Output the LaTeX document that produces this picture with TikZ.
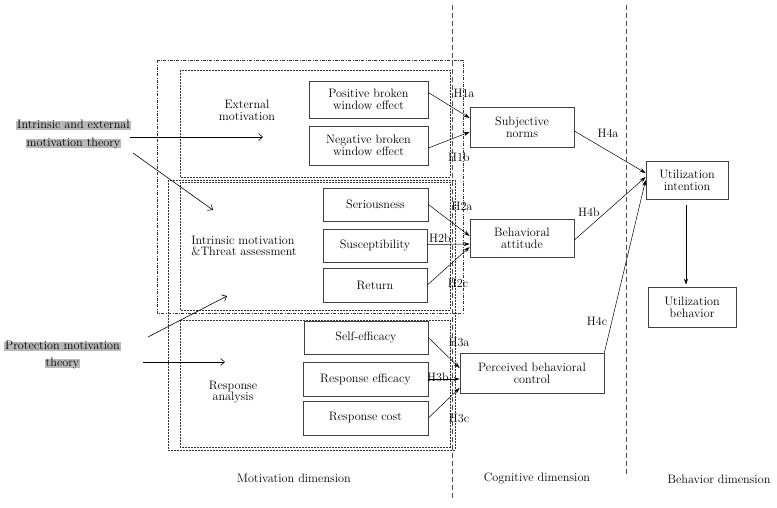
\documentclass[tikz,border=0pt]{standalone}
\usetikzlibrary{arrows.meta,calc}
\begin{document}
\begin{tikzpicture}[x=1pt,y=-1pt,
  font=\fontsize{12.2}{11.8}\selectfont,
  box/.style={draw=black!75,line width=0.7pt,align=center,inner sep=1pt},
  hl/.style={fill=black!28,inner sep=1pt,text depth=0.25ex,text height=1.6ex},
  lbl/.style={align=center,inner sep=1pt},
  harrow/.style={-{Stealth[length=6pt,width=4pt]},line width=0.5pt},
  tarrow/.style={-{Straight Barb[length=4pt,width=7pt]},line width=0.6pt},
  fdash/.style={draw=black!80,line width=0.5pt,dash pattern=on 2pt off 1pt},
  ddot/.style={draw=black!80,line width=0.5pt,dash pattern=on 3pt off 1.5pt on 0.6pt off 1.5pt},
  vdiv/.style={draw=black!70,line width=0.7pt,dash pattern=on 5pt off 3pt}]
\useasboundingbox (0,0) rectangle (777,507);
% grouping frames
\draw[ddot] (157,60) rectangle (463,313);
\draw[fdash] (180,70) rectangle (450,177);
\draw[fdash] (180,182) rectangle (450,310);
\draw[fdash] (168,180) rectangle (455,450);
\draw[fdash] (180,320) rectangle (450,447);
% dividers
\coordinate (d1t) at (452,5);
\coordinate (d1b) at (452,500);
\coordinate (d2t) at (626,5);
\coordinate (d2b) at (626,475);
\draw[vdiv] (d1t) -- (d1b);
\draw[vdiv] (d2t) -- (d2b);
% theories
\node[hl] (t1a) at (73.5,125.5) {Intrinsic and external};
\node[hl] (t1b) at (73.5,143.5) {motivation theory};
\node[hl] (t2a) at (62.5,346.5) {Protection motivation};
\node[hl] (t2b) at (62.5,363.5) {theory};
% group labels
\node[lbl] (ext) at (247,110) {External\\motivation};
\node[lbl,align=left] (intr) at (244,246) {Intrinsic motivation\\\&Threat assessment};
\node[lbl] (resp) at (233,392) {Response\\analysis};
% theory arrows
\coordinate (a1s) at (130,137);
\coordinate (a1e) at (263,137);
\coordinate (a2s) at (133,153);
\coordinate (a2e) at (213,210);
\coordinate (a3s) at (148,337);
\coordinate (a3e) at (227,296);
\coordinate (a4s) at (143,362);
\coordinate (a4e) at (225,362);
\draw[tarrow] (a1s) -- (a1e);
\draw[tarrow] (a2s) -- (a2e);
\draw[tarrow] (a3s) -- (a3e);
\draw[tarrow] (a4s) -- (a4e);
% factor boxes
\node[box,minimum width=119,minimum height=37] (pos) at (368.5,99.5) {Positive broken\\window effect};
\node[box,minimum width=119,minimum height=39] (neg) at (368.5,145.5) {Negative broken\\window effect};
\node[box,minimum width=105,minimum height=33] (ser) at (375.5,204.5) {Seriousness};
\node[box,minimum width=104,minimum height=33] (sus) at (375,245.5) {Susceptibility};
\node[box,minimum width=104,minimum height=34] (ret) at (375,285) {Return};
\node[box,minimum width=124,minimum height=33] (self) at (366,337.5) {Self-efficacy};
\node[box,minimum width=125,minimum height=34] (reff) at (365.5,379) {Response efficacy};
\node[box,minimum width=125,minimum height=34] (rcost) at (365.5,418) {Response cost};
% cognitive
\node[box,minimum width=104,minimum height=40] (subj) at (522,127) {Subjective\\norms};
\node[box,minimum width=104,minimum height=38] (att) at (522,238) {Behavioral\\attitude};
\node[box,minimum width=144,minimum height=40] (pbc) at (532,373) {Perceived behavioral\\control};
% behavior
\node[box,minimum width=82,minimum height=38] (ui) at (687,180) {Utilization\\intention};
\node[box,minimum width=88,minimum height=40] (ub) at (692,307) {Utilization\\behavior};
% hypothesis arrows
\draw[harrow] ($(pos.east)+(0,-7)$) -- ($(subj.west)+(0,-9)$);
\draw[harrow] ($(neg.east)+(0,2.5)$) -- ($(subj.west)+(0,5)$);
\draw[harrow] (ser.east) -- ($(att.west)+(0,-2)$);
\draw[harrow] ($(sus.east)+(0,-1)$) -- ($(att.west)+(0,6)$);
\draw[harrow] (ret.east) -- ($(att.west)+(0,9)$);
\draw[harrow] (self.east) -- ($(pbc.west)+(0,-5)$);
\draw[harrow] (reff.east) -- ($(pbc.west)+(0,6)$);
\draw[harrow] (rcost.east) -- ($(pbc.west)+(0,15)$);
\draw[harrow] ($(subj.east)+(0,4)$) -- ($(ui.west)+(0,-7)$);
\draw[harrow] ($(att.east)+(0,2)$) -- ($(ui.west)+(0,-3)$);
\draw[harrow] (pbc.north east) -- (ui.west);
\draw[harrow] ($(ui.south)+(-1,6)$) -- ($(ui.south |- ub.north)+(-1,-2)$);
% hypothesis labels
\node[lbl] (h1a) at (464,93) {H1a};
\node[lbl] (h1b) at (459,157) {H1b};
\node[lbl] (h2a) at (462,206) {H2a};
\node[lbl] (h2b) at (440,238) {H2b};
\node[lbl] (h2c) at (458,283) {H2c};
\node[lbl] (h3a) at (459,342) {H3a};
\node[lbl] (h3b) at (438,377) {H3b};
\node[lbl] (h3c) at (459,418) {H3c};
\node[lbl] (h4a) at (608,133) {H4a};
\node[lbl] (h4b) at (589,212) {H4b};
\node[lbl] (h4c) at (597,321) {H4c};
% dimensions
\node[lbl] (dm) at (294,478) {Motivation dimension};
\node[lbl] (dc) at (537,478) {Cognitive dimension};
\node[lbl] (db) at (719,479) {Behavior dimension};
\end{tikzpicture}
\end{document}
